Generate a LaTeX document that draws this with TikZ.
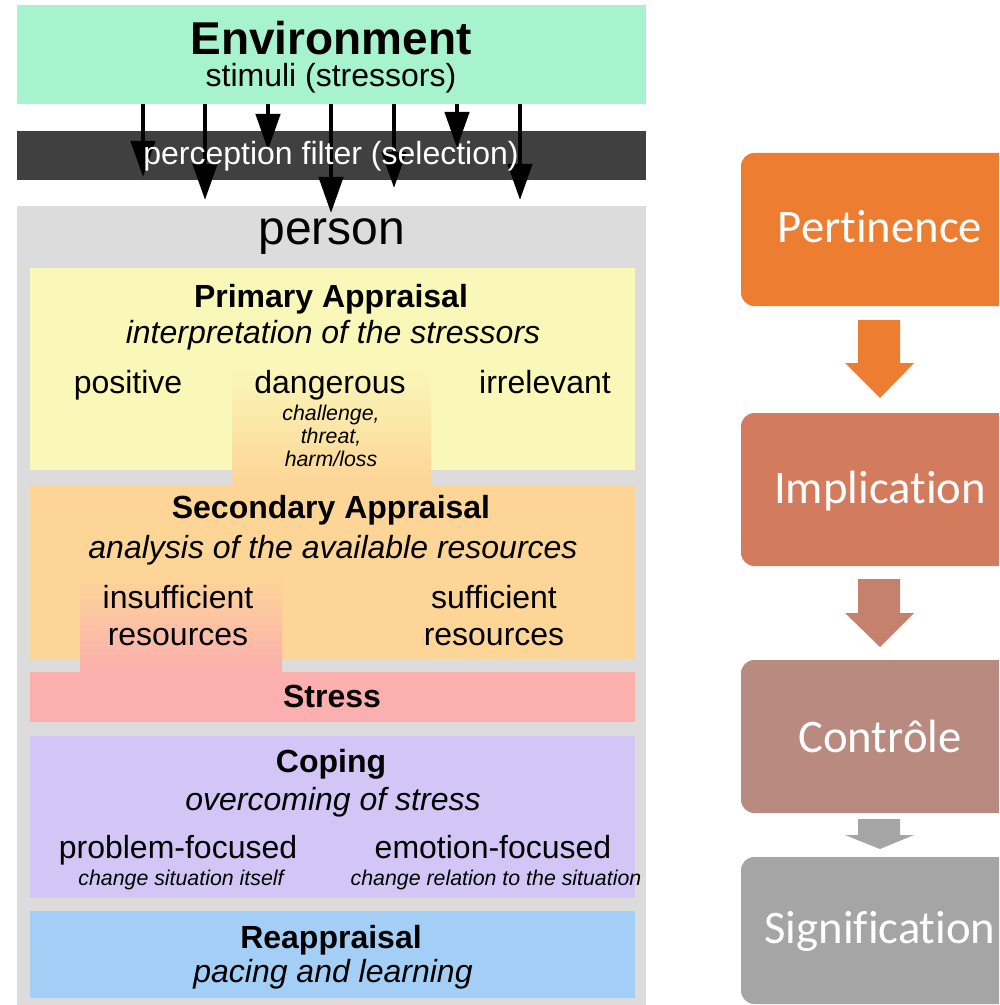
\documentclass[tikz,border=0pt]{standalone}
\usepackage{fontspec}
\setmainfont{Liberation Sans}
\newfontfamily\calib[Ligatures=NoCommon]{Carlito}
\usetikzlibrary{arrows.meta,fit}
\definecolor{envc}{HTML}{A6F3CD}
\definecolor{filtc}{HTML}{404040}
\definecolor{persc}{HTML}{DCDCDC}
\definecolor{primc}{HTML}{FAF8B9}
\definecolor{secc}{HTML}{FDD597}
\definecolor{strc}{HTML}{FBAFAF}
\definecolor{copc}{HTML}{D3C5F5}
\definecolor{reapc}{HTML}{A3CEF6}
\definecolor{pertc}{HTML}{ED7D31}
\definecolor{implc}{HTML}{D27B5D}
\definecolor{arr2c}{HTML}{C5806E}
\definecolor{contc}{HTML}{B98A80}
\definecolor{signc}{HTML}{A5A5A5}
\begin{document}
\begin{tikzpicture}[x=0.75pt,y=-0.75pt,
  area/.style={inner sep=0pt, outer sep=0pt, draw=none},
  txt/.style={anchor=base, inner sep=0pt, text=black},
  rg/.style={txt, font=\fontsize{24}{28}\selectfont},
  bd/.style={txt, font=\fontsize{24}{28}\selectfont\bfseries},
  it/.style={txt, font=\fontsize{24}{28}\selectfont\itshape},
  sm/.style={txt, font=\fontsize{16}{18}\selectfont\itshape},
  stim/.style={line width=3.2pt, -{Triangle[length=27pt,width=18pt]}},
  card/.style={area, rounded corners=10pt},
  cardtxt/.style={anchor=base, inner sep=0pt, text=white, font=\calib\fontsize{35}{40}\selectfont}
]
\useasboundingbox (0,0) rectangle (999,1005);
\clip (0,0) rectangle (999,1005);
\fill[white] (0,0) rectangle (999,1005);

% ---- left panel ----
\node[area, fill=envc, fit={(17,5) (646,104)}] (env) {};
\node[bd, font=\fontsize{34.5}{38}\selectfont\bfseries] (envt) at (331,55) {Environment};
\node[rg] (stimt) at (331,87) {stimuli (stressors)};

\node[area, fill=filtc, fit={(17,131) (646,180)}] (filt) {};
\node[area, fill=persc, fit={(17,206) (646,1005)}] (pers) {};

\foreach \i/\xx/\yy in {1/143/177, 2/205/200, 3/268/150, 4/331/213, 5/394/188, 6/457/148, 7/520/200}{
  \coordinate (t\i) at (\xx,\yy);
  \draw[stim] (env.south -| t\i) -- (t\i);
}
\node[txt, text=white, font=\fontsize{24}{28}\selectfont] (filtt) at (331,165) {perception filter (selection)};
\node[txt, font=\fontsize{36}{40}\selectfont] (perst) at (332,245) {person};

% primary appraisal
\node[area, fill=primc, fit={(30,268) (635,470)}] (prim) {};
\node[area, top color=primc, bottom color=secc, fit={(232,365) (431,485)}] (dcol) {};
\node[bd] at (331,307) {Primary Appraisal};
\node[it] at (333,343) {interpretation of the stressors};
\node[rg] at (128,393) {positive};
\node[rg] at (330,393) {dangerous};
\node[rg] at (545,393) {irrelevant};
\node[sm] at (331,420) {challenge,};
\node[sm] at (331,443) {threat,};
\node[sm] at (331,466) {harm/loss};

% secondary appraisal
\node[area, fill=secc, fit={(30,485) (635,659)}] (sec) {};
\node[area, top color=secc, bottom color=strc, fit={(80,577) (282,672)}] (icol) {};
\node[bd] at (331,518) {Secondary Appraisal};
\node[it] at (333,558) {analysis of the available resources};
\node[rg] at (178,608) {insufficient};
\node[rg] at (178,645) {resources};
\node[rg] at (494,608) {sufficient};
\node[rg] at (494,645) {resources};

% stress
\node[area, fill=strc, fit={(30,672) (635,722)}] (stress) {};
\node[bd] at (332,707) {Stress};

% coping
\node[area, fill=copc, fit={(30,736) (635,898)}] (coping) {};
\node[bd] at (331,772) {Coping};
\node[it] at (333,810) {overcoming of stress};
\node[rg] at (178,858) {problem-focused};
\node[rg] at (493,858) {emotion-focused};
\node[sm] at (181,885) {change situation itself};
\node[sm] at (496,885) {change relation to the situation};

% reappraisal
\node[area, fill=reapc, fit={(30,911) (635,998)}] (reap) {};
\node[bd] at (331,948) {Reappraisal};
\node[it] at (333,982) {pacing and learning};

% ---- right panel ----
\node[card, fill=pertc, fit={(741,153) (1020,306)}] (pert) {};
\node[cardtxt] at (880,243) {Pertinence};
\node[card, fill=implc, fit={(741,413) (1020,566)}] (impl) {};
\node[cardtxt] at (880,503) {Implication};
\node[card, fill=contc, fit={(741,660) (1020,813)}] (cont) {};
\node[cardtxt] at (880,752) {Contrôle};
\node[card, fill=signc, fit={(741,857) (1020,1004)}] (sign) {};
\node[cardtxt] at (880,943) {Signification};

\fill[pertc] (858,320) -- (900,320) -- (900,363) -- (914,363) -- (880,398) -- (845,363) -- (858,363) -- cycle;
\fill[arr2c] (858,579) -- (900,579) -- (900,613) -- (914,613) -- (880,647) -- (845,613) -- (858,613) -- cycle;
\fill[signc] (858,819) -- (900,819) -- (900,835) -- (914,835) -- (880,849) -- (845,835) -- (858,835) -- cycle;
\end{tikzpicture}
\end{document}
